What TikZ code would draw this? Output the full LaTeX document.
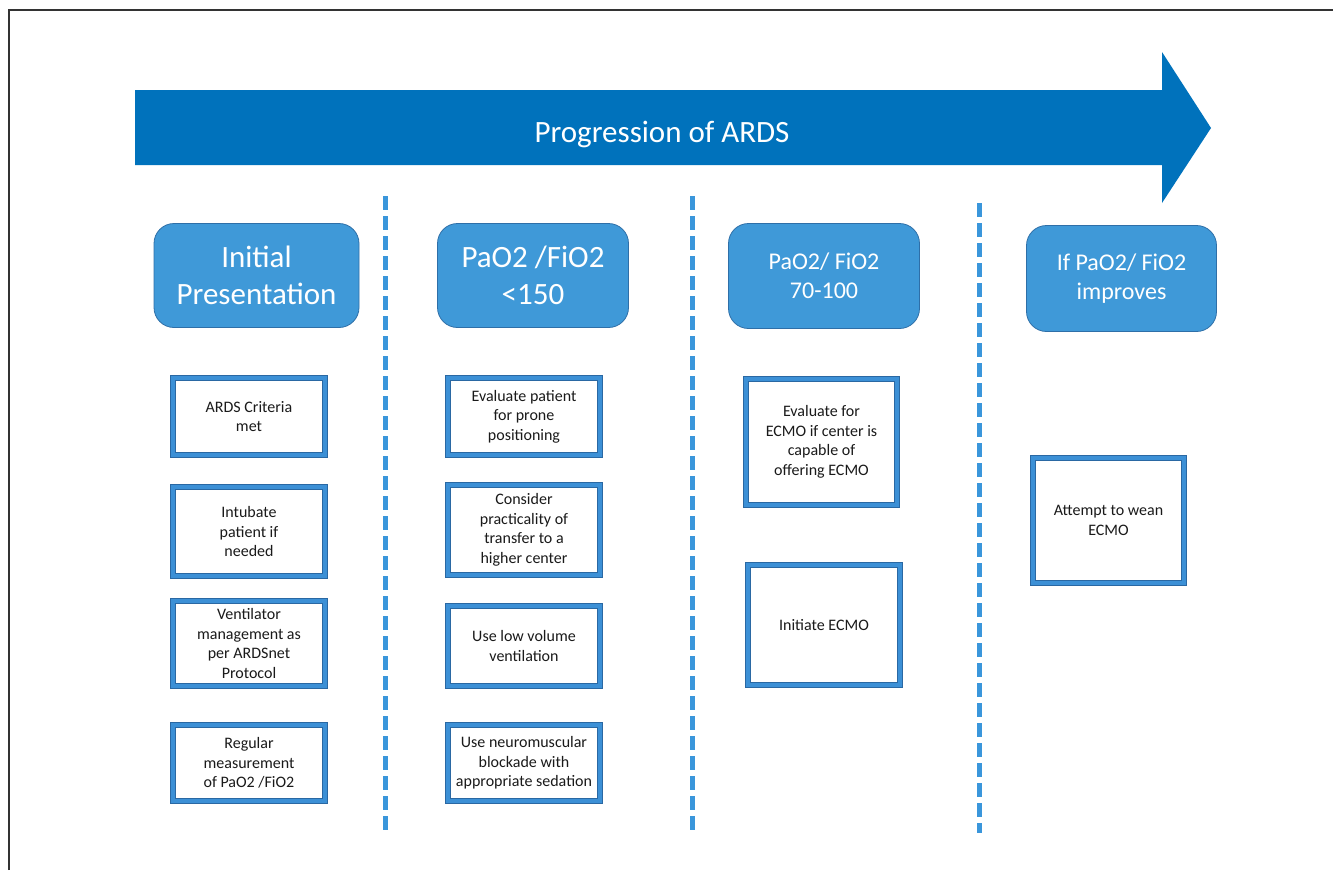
\documentclass[tikz,border=0pt]{standalone}
\usepackage{fontspec}
\setmainfont{Carlito}
\definecolor{arrowblue}{HTML}{0072BC}
\definecolor{headfill}{HTML}{3F99D8}
\definecolor{headedge}{HTML}{2E6FA8}
\definecolor{sepblue}{HTML}{3A96DB}
\definecolor{boxblue}{HTML}{3C90D6}
\definecolor{boxedge}{HTML}{2A68A3}
\definecolor{txt}{HTML}{1A1A1A}
\tikzset{
  frame/.style={draw=black!80, line width=1.3pt},
  header/.style={rectangle, rounded corners=20pt, fill=headfill, draw=headedge,
    line width=0.8pt, text=white, align=center, inner sep=0pt},
  bighead/.style={header, font=\fontsize{31}{37}\selectfont},
  smallhead/.style={header, font=\fontsize{24}{29}\selectfont},
  stepbox/.style={rectangle, draw=boxedge, line width=0.8pt, double=boxblue,
    double distance=4pt, fill=white, text=txt, align=center, inner sep=0pt,
    font=\fontsize{16}{19.5}\selectfont},
  separator/.style={draw=sepblue, line width=5pt, dash pattern=on 14pt off 6pt},
}
\begin{document}
\begin{tikzpicture}[x=1pt,y=-1pt]
\useasboundingbox (0,0) rectangle (1333,870);
\fill[white] (0,0) rectangle (1333,870);

% outer frame (top and left edges)
\draw[frame] (9,870) -- (9,10) -- (1333,10);

% progression arrow
\fill[arrowblue] (135,90) -- (1162,90) -- (1162,52) -- (1211,128)
  -- (1162,203) -- (1162,165) -- (135,165) -- cycle;
\node[anchor=base, text=white, font=\fontsize{31}{37}\selectfont] (title)
  at (662,142) {Progression of ARDS};

% column separators
\coordinate (s1t) at (385,196); \coordinate (s1b) at (385,830);
\coordinate (s2t) at (692,196); \coordinate (s2b) at (692,830);
\coordinate (s3t) at (979,203); \coordinate (s3b) at (979,833);
\draw[separator] (s1t) -- (s1b);
\draw[separator] (s2t) -- (s2b);
\draw[separator] (s3t) -- (s3b);

% stage headers
\node[bighead, minimum width=205pt, minimum height=104pt] (h1) at (256.5,275.5)
  {Initial\\Presentation};
\node[bighead, minimum width=191pt, minimum height=104pt] (h2) at (533,275.5)
  {PaO2 /FiO2\\<150};
\node[smallhead, minimum width=191pt, minimum height=105pt] (h3) at (824,276)
  {PaO2/ FiO2\\70-100};
\node[smallhead, minimum width=190pt, minimum height=106pt] (h4) at (1121.5,278.5)
  {If PaO2/ FiO2\\improves};

% stage 1 steps
\node[stepbox, minimum width=152pt, minimum height=77pt] (a1) at (249,416.5)
  {ARDS Criteria\\met};
\node[stepbox, minimum width=152pt, minimum height=89pt] (a2) at (249,531.5)
  {Intubate\\patient if\\needed};
\node[stepbox, minimum width=152pt, minimum height=85pt] (a3) at (249,643.5)
  {Ventilator\\management as\\per ARDSnet\\Protocol};
\node[stepbox, minimum width=152pt, minimum height=76pt] (a4) at (249,763)
  {Regular\\measurement\\of PaO2 /FiO2};

% stage 2 steps
\node[stepbox, minimum width=152pt, minimum height=77pt] (b1) at (524,416.5)
  {Evaluate patient\\for prone\\positioning};
\node[stepbox, minimum width=152pt, minimum height=90pt] (b2) at (524,530)
  {Consider\\practicality of\\transfer to a\\higher center};
\node[stepbox, minimum width=152pt, minimum height=80pt] (b3) at (524,646)
  {Use low volume\\ventilation};
\node[stepbox, minimum width=152pt, minimum height=76pt] (b4) at (524,763)
  {Use neuromuscular\\blockade with\\appropriate sedation};

% stage 3 steps
\node[stepbox, minimum width=151pt, minimum height=126pt] (c1) at (821.5,442)
  {Evaluate for\\ECMO if center is\\capable of\\offering ECMO};
\node[stepbox, minimum width=152pt, minimum height=120pt] (c2) at (824,625)
  {Initiate ECMO};

% stage 4 step
\node[stepbox, minimum width=151pt, minimum height=125pt] (d1) at (1108.5,520.5)
  {Attempt to wean\\ECMO};
\end{tikzpicture}
\end{document}
